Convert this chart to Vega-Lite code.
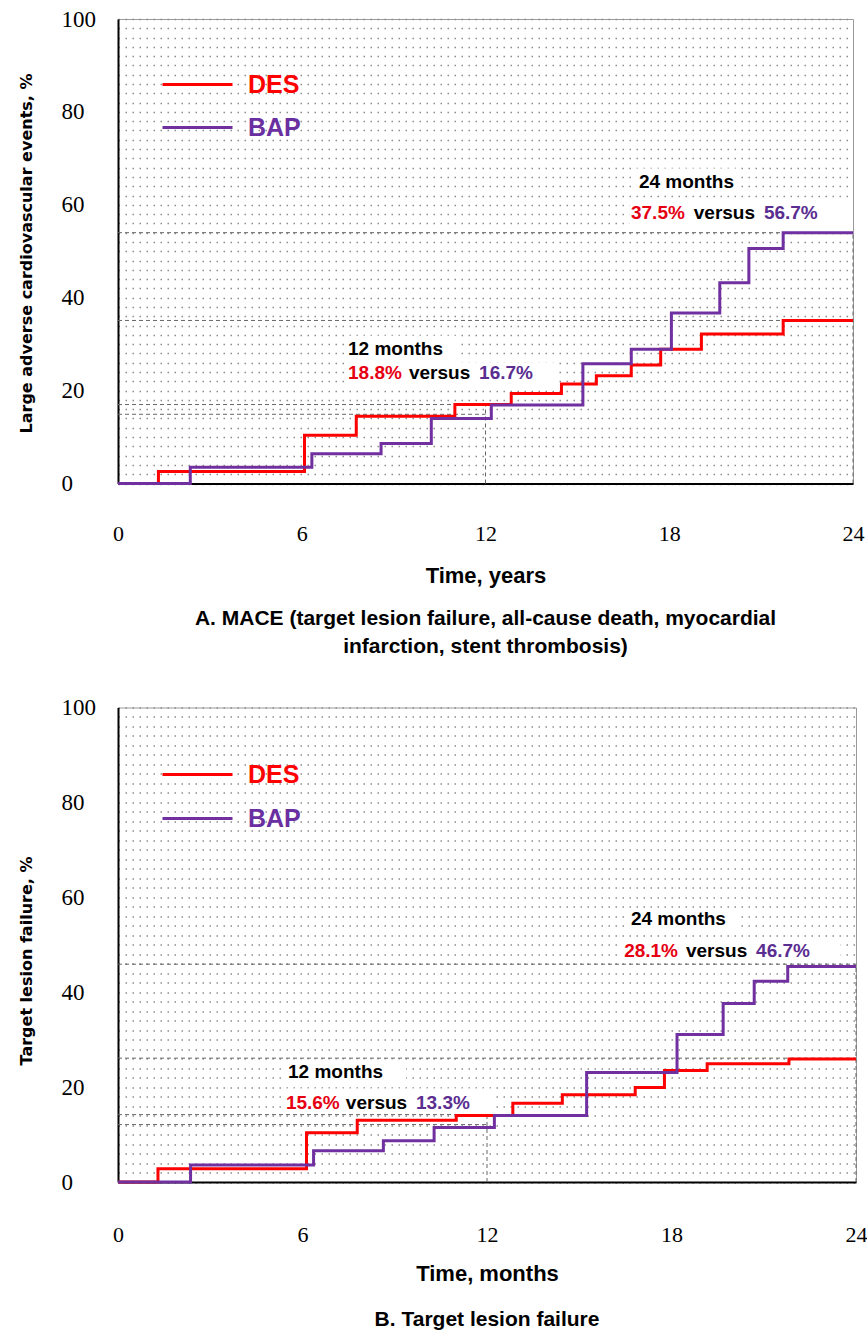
{
  "$schema": "https://vega.github.io/schema/vega-lite/v6.json",
  "background": "white",
  "autosize": {"type": "pad"},
  "padding": {"left": 17, "top": 7, "right": 10, "bottom": 5},
  "bounds": "flush",
  "spacing": 223.5,
  "config": {
    "view": {"stroke": "#9a9a9a", "strokeWidth": 1},
    "font": "Liberation Sans"
  },
  "resolve": {"scale": {"color": "independent"}, "legend": {"color": "independent"}},
  "vconcat": [
    {
      "width": 735,
      "height": 464.5,
      "title": {
        "text": ["A. MACE (target lesion failure, all-cause death, myocardial", "infarction, stent  thrombosis)"],
        "orient": "bottom", "anchor": "middle", "offset": 22,
        "font": "Liberation Sans", "fontSize": 21, "fontWeight": "bold", "lineHeight": 28, "color": "black"
      },
      "encoding": {
        "x": {
          "field": "t", "type": "quantitative",
          "scale": {"domain": [0, 24], "nice": false, "zero": false},
          "axis": {
            "values": [0, 6, 12, 18, 24], "title": "Time, years",
            "titleFont": "Liberation Sans", "titleFontSize": 22, "titleFontWeight": "bold",
            "titleY": 91.5, "titleBaseline": "middle", "titleColor": "black",
            "labelFont": "Liberation Serif", "labelFontSize": 22, "labelColor": "black",
            "labelPadding": 50, "labelBaseline": "middle", "labelFlush": false,
            "ticks": false, "tickSize": 0, "grid": false, "domainColor": "black", "domainWidth": 2
          }
        },
        "y": {
          "field": "v", "type": "quantitative",
          "scale": {"domain": [0, 100], "nice": false},
          "axis": {
            "values": [0,2,4,6,8,10,12,14,16,18,20,22,24,26,28,30,32,34,36,38,40,42,44,46,48,50,52,54,56,58,60,62,64,66,68,70,72,74,76,78,80,82,84,86,88,90,92,94,96,98,100],
            "labelExpr": "datum.value % 20 === 0 ? datum.label : ''",
            "labelAlign": "left", "labelPadding": 57, "labelOverlap": false, "labelFlush": false,
            "labelFont": "Liberation Serif", "labelFontSize": 23, "labelColor": "black",
            "ticks": false, "tickSize": 0,
            "grid": true, "gridColor": "#8c8c8c", "gridDash": [1.5, 5.5], "gridWidth": 1.5,
            "domainColor": "black", "domainWidth": 2,
            "title": "Large adverse cardiovascular events, %",
            "titleFont": "DejaVu Sans", "titleFontSize": 16, "titleFontWeight": "bold", "titleColor": "black",
            "titleX": -92, "titleY": 234, "titleBaseline": "middle", "titleAlign": "center"
          }
        }
      },
      "layer": [
        {
          "data": {"values": [
            {"t": 7.44, "t2": 11.2, "v": 26.0, "v2": 31.8},
            {"t": 7.44, "t2": 14.4, "v": 20.6, "v2": 26.0},
            {"t": 16.9, "t2": 20.3, "v": 62.4, "v2": 67.8},
            {"t": 16.7, "t2": 23.9, "v": 55.1, "v2": 61.5}
          ]},
          "mark": {"type": "rect", "fill": "white"},
          "encoding": {"x2": {"field": "t2"}, "y2": {"field": "v2"}}
        },
        {
          "data": {"values": [
            {"t": 0, "t2": 12, "v": 17.0, "v2": 17.0},
            {"t": 0, "t2": 12, "v": 14.9, "v2": 14.9},
            {"t": 12, "t2": 12, "v": 0, "v2": 17.0},
            {"t": 0, "t2": 24, "v": 35.1, "v2": 35.1},
            {"t": 0, "t2": 24, "v": 54.0, "v2": 54.0},
            {"t": 24, "t2": 24, "v": 0, "v2": 54.0}
          ]},
          "mark": {"type": "rule", "stroke": "#666666", "strokeDash": [4, 3], "strokeWidth": 1},
          "encoding": {"x2": {"field": "t2"}, "y2": {"field": "v2"}}
        },
        {
          "data": {"values": [
            {"series": "DES", "t": 0, "v": 0},
            {"series": "DES", "t": 1.32, "v": 2.6},
            {"series": "DES", "t": 6.09, "v": 10.4},
            {"series": "DES", "t": 7.78, "v": 14.5},
            {"series": "DES", "t": 11.0, "v": 17.0},
            {"series": "DES", "t": 12.84, "v": 19.4},
            {"series": "DES", "t": 14.48, "v": 21.4},
            {"series": "DES", "t": 15.62, "v": 23.2},
            {"series": "DES", "t": 16.76, "v": 25.5},
            {"series": "DES", "t": 17.72, "v": 28.9},
            {"series": "DES", "t": 19.05, "v": 32.2},
            {"series": "DES", "t": 21.72, "v": 35.1},
            {"series": "DES", "t": 24, "v": 35.1},
            {"series": "BAP", "t": 0, "v": 0},
            {"series": "BAP", "t": 2.36, "v": 3.5},
            {"series": "BAP", "t": 6.33, "v": 6.4},
            {"series": "BAP", "t": 8.59, "v": 8.6},
            {"series": "BAP", "t": 10.23, "v": 14.0},
            {"series": "BAP", "t": 12.19, "v": 16.9},
            {"series": "BAP", "t": 15.18, "v": 25.8},
            {"series": "BAP", "t": 16.76, "v": 28.9},
            {"series": "BAP", "t": 18.07, "v": 36.7},
            {"series": "BAP", "t": 19.65, "v": 43.2},
            {"series": "BAP", "t": 20.6, "v": 50.6},
            {"series": "BAP", "t": 21.72, "v": 54.0},
            {"series": "BAP", "t": 24, "v": 54.0}
          ]},
          "mark": {"type": "line", "interpolate": "step-after", "strokeWidth": 3},
          "encoding": {
            "color": {
              "field": "series", "type": "nominal",
              "scale": {"domain": ["DES", "BAP"], "range": ["#ff0000", "#7030a0"]},
              "legend": {
                "orient": "none", "legendX": 43, "legendY": 44, "title": null,
                "symbolType": "stroke", "symbolSize": 4900, "symbolStrokeWidth": 3,
                "clipHeight": 43, "rowPadding": 0, "padding": 0, "labelOffset": 14,
                "labelFont": "Liberation Sans", "labelFontSize": 25, "labelFontWeight": "bold",
                "labelColor": {"expr": "datum.label === 'DES' ? '#ff0000' : '#6a2fa0'"}
              }
            }
          }
        },
        {
          "data": {"values": [
            {"t": 7.51, "v": 29.0, "label": "12 months", "grp": "head"},
            {"t": 7.51, "v": 23.7, "label": "18.8%", "grp": "DES"},
            {"t": 9.5, "v": 23.7, "label": "versus", "grp": "head"},
            {"t": 11.79, "v": 23.7, "label": "16.7%", "grp": "BAP"},
            {"t": 17.01, "v": 65.0, "label": "24 months", "grp": "head"},
            {"t": 16.75, "v": 58.2, "label": "37.5%", "grp": "DES"},
            {"t": 18.8, "v": 58.2, "label": "versus", "grp": "head"},
            {"t": 21.09, "v": 58.2, "label": "56.7%", "grp": "BAP"}
          ]},
          "mark": {"type": "text", "align": "left", "baseline": "middle", "font": "Liberation Sans", "fontSize": 19, "fontWeight": "bold"},
          "encoding": {
            "text": {"field": "label"},
            "color": {
              "condition": [
                {"test": "datum.grp === 'DES'", "value": "#e60012"},
                {"test": "datum.grp === 'BAP'", "value": "#5a2d91"}
              ],
              "value": "black"
            }
          }
        }
      ]
    },
    {
      "width": 738,
      "height": 474.5,
      "title": {
        "text": "B. Target lesion failure",
        "orient": "bottom", "anchor": "middle", "offset": 24,
        "font": "Liberation Sans", "fontSize": 21, "fontWeight": "bold", "lineHeight": 28, "color": "black"
      },
      "encoding": {
        "x": {
          "field": "t", "type": "quantitative",
          "scale": {"domain": [0, 24], "nice": false, "zero": false},
          "axis": {
            "values": [0, 6, 12, 18, 24], "title": "Time, months",
            "titleFont": "Liberation Sans", "titleFontSize": 22, "titleFontWeight": "bold",
            "titleY": 91.5, "titleBaseline": "middle", "titleColor": "black",
            "labelFont": "Liberation Serif", "labelFontSize": 22, "labelColor": "black",
            "labelPadding": 52.5, "labelBaseline": "middle", "labelFlush": false,
            "ticks": false, "tickSize": 0, "grid": false, "domainColor": "black", "domainWidth": 2
          }
        },
        "y": {
          "field": "v", "type": "quantitative",
          "scale": {"domain": [0, 100], "nice": false},
          "axis": {
            "values": [0,2,4,6,8,10,12,14,16,18,20,22,24,26,28,30,32,34,36,38,40,42,44,46,48,50,52,54,56,58,60,62,64,66,68,70,72,74,76,78,80,82,84,86,88,90,92,94,96,98,100],
            "labelExpr": "datum.value % 20 === 0 ? datum.label : ''",
            "labelAlign": "left", "labelPadding": 57, "labelOverlap": false, "labelFlush": false,
            "labelFont": "Liberation Serif", "labelFontSize": 23, "labelColor": "black",
            "ticks": false, "tickSize": 0,
            "grid": true, "gridColor": "#8c8c8c", "gridDash": [1.5, 5.5], "gridWidth": 1.5,
            "domainColor": "black", "domainWidth": 2,
            "title": "Target lesion failure, %",
            "titleFont": "DejaVu Sans", "titleFontSize": 16, "titleFontWeight": "bold", "titleColor": "black",
            "titleX": -92, "titleY": 253, "titleBaseline": "middle", "titleAlign": "center"
          }
        }
      },
      "layer": [
        {
          "data": {"values": [
            {"t": 5.4, "t2": 9.37, "v": 20.5, "v2": 25.8},
            {"t": 5.37, "t2": 12.2, "v": 14.6, "v2": 19.7},
            {"t": 16.46, "t2": 20.16, "v": 53.2, "v2": 57.6},
            {"t": 16.3, "t2": 23.5, "v": 46.5, "v2": 50.7}
          ]},
          "mark": {"type": "rect", "fill": "white"},
          "encoding": {"x2": {"field": "t2"}, "y2": {"field": "v2"}}
        },
        {
          "data": {"values": [
            {"t": 0, "t2": 12, "v": 14.2, "v2": 14.2},
            {"t": 0, "t2": 12, "v": 12.1, "v2": 12.1},
            {"t": 12, "t2": 12, "v": 0, "v2": 14.2},
            {"t": 0, "t2": 24, "v": 26.1, "v2": 26.1},
            {"t": 0, "t2": 24, "v": 45.9, "v2": 45.9},
            {"t": 24, "t2": 24, "v": 0, "v2": 45.9}
          ]},
          "mark": {"type": "rule", "stroke": "#666666", "strokeDash": [4, 3], "strokeWidth": 1},
          "encoding": {"x2": {"field": "t2"}, "y2": {"field": "v2"}}
        },
        {
          "data": {"values": [
            {"series": "DES", "t": 0, "v": 0},
            {"series": "DES", "t": 1.30, "v": 2.8},
            {"series": "DES", "t": 6.13, "v": 10.4},
            {"series": "DES", "t": 7.78, "v": 13.0},
            {"series": "DES", "t": 11.0, "v": 14.0},
            {"series": "DES", "t": 12.84, "v": 16.6},
            {"series": "DES", "t": 14.45, "v": 18.4},
            {"series": "DES", "t": 16.82, "v": 19.9},
            {"series": "DES", "t": 17.77, "v": 23.5},
            {"series": "DES", "t": 19.16, "v": 24.9},
            {"series": "DES", "t": 21.82, "v": 25.9},
            {"series": "DES", "t": 24, "v": 25.9},
            {"series": "BAP", "t": 0, "v": 0},
            {"series": "BAP", "t": 2.36, "v": 3.6},
            {"series": "BAP", "t": 6.36, "v": 6.6},
            {"series": "BAP", "t": 8.63, "v": 8.7},
            {"series": "BAP", "t": 10.28, "v": 11.5},
            {"series": "BAP", "t": 12.24, "v": 14.0},
            {"series": "BAP", "t": 15.24, "v": 23.1},
            {"series": "BAP", "t": 18.18, "v": 31.1},
            {"series": "BAP", "t": 19.68, "v": 37.6},
            {"series": "BAP", "t": 20.69, "v": 42.3},
            {"series": "BAP", "t": 21.78, "v": 45.4},
            {"series": "BAP", "t": 24, "v": 45.4}
          ]},
          "mark": {"type": "line", "interpolate": "step-after", "strokeWidth": 3},
          "encoding": {
            "color": {
              "field": "series", "type": "nominal",
              "scale": {"domain": ["DES", "BAP"], "range": ["#ff0000", "#7030a0"]},
              "legend": {
                "orient": "none", "legendX": 43, "legendY": 45, "title": null,
                "symbolType": "stroke", "symbolSize": 4900, "symbolStrokeWidth": 3,
                "clipHeight": 44, "rowPadding": 0, "padding": 0, "labelOffset": 14,
                "labelFont": "Liberation Sans", "labelFontSize": 25, "labelFontWeight": "bold",
                "labelColor": {"expr": "datum.label === 'DES' ? '#ff0000' : '#6a2fa0'"}
              }
            }
          }
        },
        {
          "data": {"values": [
            {"t": 5.53, "v": 23.1, "label": "12 months", "grp": "head"},
            {"t": 5.46, "v": 16.6, "label": "15.6%", "grp": "DES"},
            {"t": 7.41, "v": 16.6, "label": "versus", "grp": "head"},
            {"t": 9.69, "v": 16.6, "label": "13.3%", "grp": "BAP"},
            {"t": 16.68, "v": 55.5, "label": "24 months", "grp": "head"},
            {"t": 16.46, "v": 48.6, "label": "28.1%", "grp": "DES"},
            {"t": 18.47, "v": 48.6, "label": "versus", "grp": "head"},
            {"t": 20.75, "v": 48.6, "label": "46.7%", "grp": "BAP"}
          ]},
          "mark": {"type": "text", "align": "left", "baseline": "middle", "font": "Liberation Sans", "fontSize": 19, "fontWeight": "bold"},
          "encoding": {
            "text": {"field": "label"},
            "color": {
              "condition": [
                {"test": "datum.grp === 'DES'", "value": "#e60012"},
                {"test": "datum.grp === 'BAP'", "value": "#5a2d91"}
              ],
              "value": "black"
            }
          }
        }
      ]
    }
  ]
}
